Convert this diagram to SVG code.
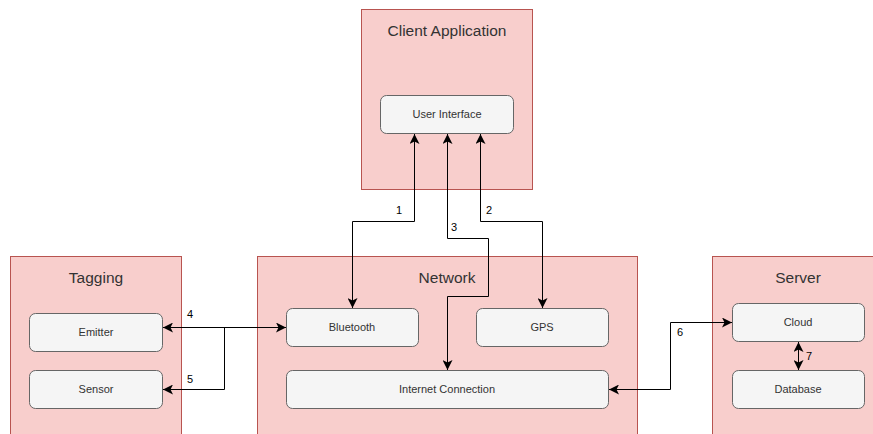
<svg xmlns="http://www.w3.org/2000/svg" width="873" height="434" viewBox="0 0 873 434">
<defs>
<marker id="ah" viewBox="0 0 10 10" refX="10" refY="5" markerWidth="10" markerHeight="10" markerUnits="userSpaceOnUse" orient="auto-start-reverse">
<path d="M0,0 L10,5 L0,10 L2.5,5 Z" fill="#000"/>
</marker>
<style>
.c{fill:#f8cecc;stroke:#b85450;stroke-width:1}
.n{fill:#f5f5f5;stroke:#666;stroke-width:1}
.t{font-family:"Liberation Sans",Arial,sans-serif;font-size:15.5px;fill:#333;text-anchor:middle}
.s{font-family:"Liberation Sans",Arial,sans-serif;font-size:11px;fill:#333;text-anchor:middle}
.l{font-family:"Liberation Sans",Arial,sans-serif;font-size:11px;fill:#000;text-anchor:middle}
.e{fill:none;stroke:#000;stroke-width:1}
</style>
</defs>
<rect width="873" height="434" fill="#fff"/>
<g id="client">
<rect class="c" x="361.5" y="9.5" width="171" height="180"/>
<text class="t" x="447" y="36">Client Application</text>
</g>
<g id="tagging">
<rect class="c" x="10.5" y="256.5" width="171" height="190"/>
<text class="t" x="96" y="283">Tagging</text>
</g>
<g id="network">
<rect class="c" x="257.5" y="256.5" width="380" height="190"/>
<text class="t" x="447" y="283">Network</text>
</g>
<g id="server">
<rect class="c" x="712.5" y="256.5" width="171" height="190"/>
<text class="t" x="798" y="283">Server</text>
</g>
<g id="ui">
<rect class="n" x="380.5" y="95.5" width="133" height="38" rx="6"/>
<text class="s" x="447" y="118">User Interface</text>
</g>
<g id="emitter">
<rect class="n" x="29.5" y="313.5" width="133" height="38" rx="6"/>
<text class="s" x="96" y="336">Emitter</text>
</g>
<g id="sensor">
<rect class="n" x="29.5" y="370.5" width="133" height="38" rx="6"/>
<text class="s" x="96" y="393">Sensor</text>
</g>
<g id="bluetooth">
<rect class="n" x="286.5" y="308.5" width="132" height="38" rx="6"/>
<text class="s" x="352" y="331">Bluetooth</text>
</g>
<g id="gps">
<rect class="n" x="476.5" y="308.5" width="132" height="38" rx="6"/>
<text class="s" x="542" y="331">GPS</text>
</g>
<g id="internet">
<rect class="n" x="286.5" y="370.5" width="322" height="38" rx="6"/>
<text class="s" x="447" y="393">Internet Connection</text>
</g>
<g id="cloud">
<rect class="n" x="732.5" y="303.5" width="132" height="38" rx="6"/>
<text class="s" x="798" y="326">Cloud</text>
</g>
<g id="database">
<rect class="n" x="732.5" y="370.5" width="132" height="38" rx="6"/>
<text class="s" x="798" y="393">Database</text>
</g>
<g id="connectors">
<path class="e" d="M414.5,134 V221.5 H352.5 V308" marker-start="url(#ah)" marker-end="url(#ah)"/>
<path class="e" d="M480.5,134 V221.5 H542.5 V308" marker-start="url(#ah)" marker-end="url(#ah)"/>
<path class="e" d="M447.5,134 V238.5 H488.5 V296.5 H447.5 V370" marker-start="url(#ah)" marker-end="url(#ah)"/>
<path class="e" d="M163,327.5 H286" marker-start="url(#ah)" marker-end="url(#ah)"/>
<path class="e" d="M224.5,327.5 V389.5 H163" marker-end="url(#ah)"/>
<path class="e" d="M609,389.5 H670.5 V322.5 H732" marker-start="url(#ah)" marker-end="url(#ah)"/>
<path class="e" d="M798.5,342 V370" marker-start="url(#ah)" marker-end="url(#ah)"/>
<text class="l" x="399" y="214">1</text>
<text class="l" x="489" y="214">2</text>
<text class="l" x="454" y="231">3</text>
<text class="l" x="190" y="318">4</text>
<text class="l" x="190" y="383">5</text>
<text class="l" x="680" y="336">6</text>
<text class="l" x="809" y="360">7</text>
</g>
</svg>
